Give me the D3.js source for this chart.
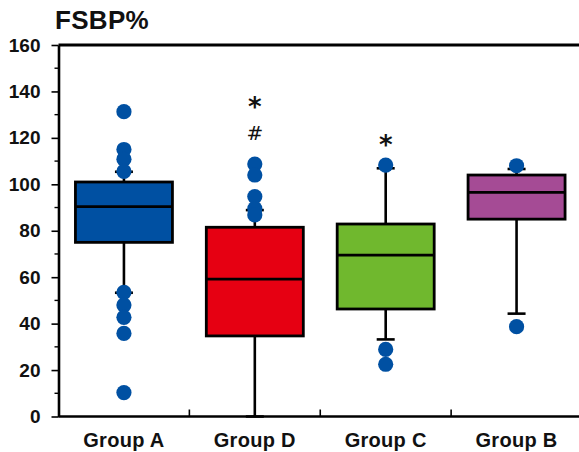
<!DOCTYPE html>
<html>
<head>
<meta charset="utf-8">
<script src="https://cdn.jsdelivr.net/npm/d3@7"></script>
<style>
  body { margin: 0; background: #fff; }
  svg { display: block; font-family: "Liberation Sans", Arial, Helvetica, sans-serif; }
</style>
</head>
<body>
<div id="chart"></div>
<script>
// groups in plotting order
const groups = ["Group A", "Group D", "Group C", "Group B"];
const colors = ["#0050a2", "#e60012", "#70b82e", "#a54b95"];
// box stats: [lowWhisker, q1, median, q3, highWhisker]
const stats = [
    [53.3, 75, 90.4, 101, 105.4],
    [0, 34.7, 59.2, 81.5, 88.9],
    [33.2, 46.3, 69.5, 82.9, 106.9],
    [44.3, 85, 96.5, 104, 106.6],
];
const outliers = [
    [131.3, 115, 110.8, 105.6, 53.5, 48, 42.7, 35.8, 10.3],
    [108.7, 104, 94.7, 89.5, 86.8],
    [108.3, 28.9, 22.5],
    [108, 38.7],
];
// significance marks above each group (symbol, value at its centre)
const marks = [[], [["*", 135.5], ["#", 122]], [["*", 119]], []];
const yTicks = [0, 20, 40, 60, 80, 100, 120, 140, 160];
const yMinor = [10, 30, 50, 70, 90, 110, 130, 150];

const width = 579, height = 452;
const margin = { top: 45, left: 58.5, bottom: 35.5 };

const svg = d3.select("#chart").append("svg")
    .attr("width", width)
    .attr("height", height);

const x = d3.scaleBand().domain(groups).range([margin.left, 582]);
const y = d3.scaleLinear().domain([0, 160]).range([height - margin.bottom, margin.top]);

const boxW = 97, capW = 18;

// frame top line
svg.append("line")
    .attr("x1", margin.left).attr("x2", width)
    .attr("y1", y(160)).attr("y2", y(160))
    .attr("stroke", "#000").attr("stroke-width", 2.8);

const g = svg.selectAll("g.box")
    .data(groups)
    .enter().append("g")
    .attr("class", "box");

g.each(function (d, i) {
    const s = stats[i];
    const cx = x(d) + x.bandwidth() / 2;
    const el = d3.select(this);
    // whiskers
    el.append("line")
        .attr("x1", cx).attr("x2", cx)
        .attr("y1", y(s[0])).attr("y2", y(s[4]))
        .attr("stroke", "#000").attr("stroke-width", 2.6);
    [s[0], s[4]].forEach(function (v) {
        el.append("line")
            .attr("x1", cx - capW / 2).attr("x2", cx + capW / 2)
            .attr("y1", y(v)).attr("y2", y(v))
            .attr("stroke", "#000").attr("stroke-width", 2.6);
    });
    el.append("rect")
        .attr("x", cx - boxW / 2).attr("width", boxW)
        .attr("y", y(s[3])).attr("height", y(s[1]) - y(s[3]))
        .attr("fill", colors[i])
        .attr("stroke", "#000").attr("stroke-width", 2.8);
    el.append("line")
        .attr("x1", cx - boxW / 2).attr("x2", cx + boxW / 2)
        .attr("y1", y(s[2])).attr("y2", y(s[2]))
        .attr("stroke", "#000").attr("stroke-width", 2.8);
    el.selectAll("circle")
        .data(outliers[i])
        .enter().append("circle")
        .attr("cx", cx)
        .attr("cy", (v) => y(v))
        .attr("r", 7.6)
        .attr("fill", "#0050a2");
    // baseline sits below the glyph centre
    el.selectAll("text.mark")
        .data(marks[i])
        .enter().append("text")
        .attr("class", "mark")
        .attr("x", cx)
        .attr("y", (m) => y(m[1]) + (m[0] == "*" ? 14 : 7))
        .attr("text-anchor", "middle")
        .attr("font-size", (m) => m[0] == "*" ? 26 : 20)
        .attr("font-family", "DejaVu Sans, sans-serif")
        .attr("font-weight", (m) => m[0] == "*" ? "bold" : "normal")
        .attr("fill", "#111")
        .text((m) => m[0]);
});

// y axis
const yAxis = svg.append("g")
    .attr("transform", `translate(${margin.left},0)`)
    .call(d3.axisLeft(y).tickValues(yTicks).tickSize(7).tickPadding(11).tickSizeOuter(0));
yAxis.select(".domain").attr("stroke-width", 2.6);
yAxis.selectAll(".tick line").attr("stroke-width", 1.6);
yAxis.selectAll(".tick text")
    .attr("font-size", 19).attr("font-weight", "bold").attr("fill", "#111");
svg.append("g")
    .attr("transform", `translate(${margin.left},0)`)
    .selectAll("line")
    .data(yMinor)
    .enter().append("line")
    .attr("x1", -4).attr("x2", 0)
    .attr("y1", (v) => y(v)).attr("y2", (v) => y(v))
    .attr("stroke", "#000").attr("stroke-width", 1.4);

// x axis
svg.append("line")
    .attr("x1", margin.left).attr("x2", width)
    .attr("y1", y(0)).attr("y2", y(0))
    .attr("stroke", "#000").attr("stroke-width", 2.6);
svg.selectAll("line.sep")
    .data(groups.slice(1))
    .enter().append("line")
    .attr("class", "sep")
    .attr("x1", (d) => x(d)).attr("x2", (d) => x(d))
    .attr("y1", y(0)).attr("y2", y(0) - 7)
    .attr("stroke", "#000").attr("stroke-width", 1.6);
svg.selectAll("text.cat")
    .data(groups)
    .enter().append("text")
    .attr("class", "cat")
    .attr("x", (d) => x(d) + x.bandwidth() / 2)
    .attr("y", 447)
    .attr("text-anchor", "middle")
    .attr("font-size", 20)
    .attr("font-weight", "bold")
    .attr("letter-spacing", 0.3)
    .attr("fill", "#111")
    .text((d) => d);

// title
svg.append("text")
    .attr("x", 55).attr("y", 29)
    .attr("font-size", 26)
    .attr("font-weight", "bold")
    .attr("letter-spacing", 0.3)
    .attr("fill", "#111")
    .text("FSBP%");
</script>
</body>
</html>
